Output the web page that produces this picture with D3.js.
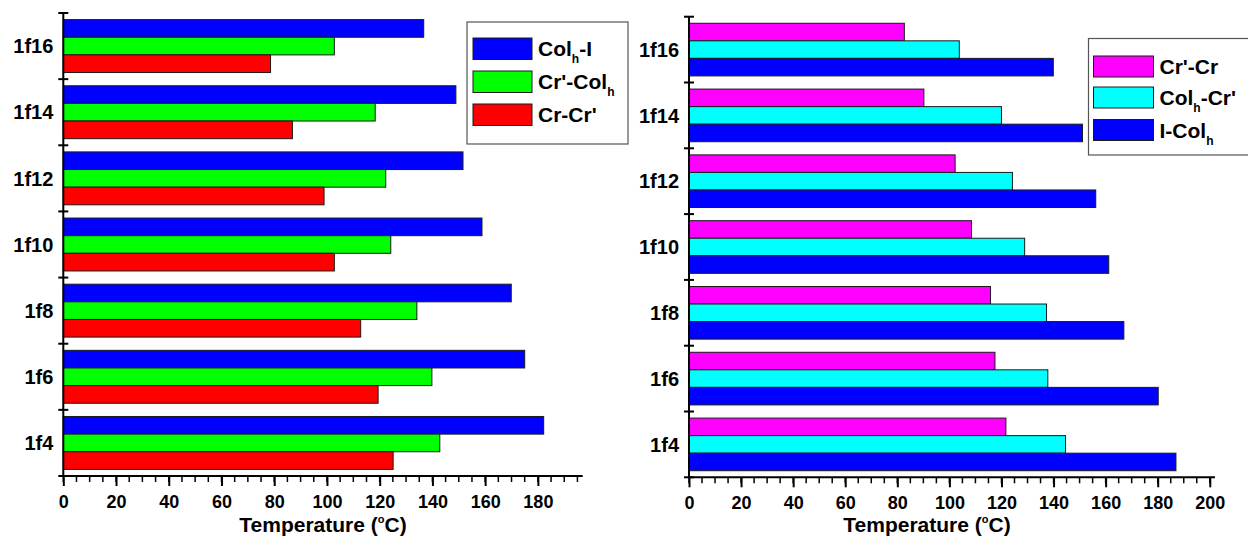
<!DOCTYPE html>
<html>
<head>
<meta charset="utf-8">
<script src="https://cdn.jsdelivr.net/npm/d3@7"></script>
<style>
  html, body { margin: 0; padding: 0; background: #fff; }
  svg { display: block; font-family: "Liberation Sans", Arial, sans-serif; font-weight: bold; }
</style>
</head>
<body>
<svg id="chart" width="1248" height="537"></svg>
<script>
// Compounds, listed top to bottom
const categories = ["1f16", "1f14", "1f12", "1f10", "1f8", "1f6", "1f4"];

// Heating transitions (°C), same order as categories
const colhToI   = [136.7, 148.9, 151.6, 158.8, 169.9, 175.0, 182.2];
const crpToColh = [102.8, 118.3, 122.3, 124.2, 134.1, 139.8, 142.8];
const crToCrp   = [78.6, 86.9, 98.9, 102.8, 112.8, 119.4, 125.1];

// Cooling transitions (°C), same order as categories
const crpToCr   = [82.7, 90.2, 102.2, 108.5, 115.8, 117.5, 121.7];
const colhToCrp = [103.8, 120.0, 124.2, 128.9, 137.3, 137.8, 144.6];
const iToColh   = [139.9, 151.1, 156.2, 161.2, 167.0, 180.2, 187.0];

const heatTicks = [0, 20, 40, 60, 80, 100, 120, 140, 160, 180];
const coolTicks = [0, 20, 40, 60, 80, 100, 120, 140, 160, 180, 200];

const svg = d3.select("#chart");

// label parts: [text, isSubscript]
const panels = [
  {
    x0: 63.3, x1: 582.7, y0: 13, y1: 476, xMax: 197, ticks: heatTicks,
    titleX: 323,
    series: [
      { key: "colhI", values: colhToI, color: "#0000ff", label: [["Col", 0], ["h", 1], ["-I", 0]] },
      { key: "crpColh", values: crpToColh, color: "#00ff00", label: [["Cr'-Col", 0], ["h", 1]] },
      { key: "crCrp", values: crToCrp, color: "#ff0000", label: [["Cr-Cr'", 0]] }
    ],
    legend: { x: 467, y: 22, w: 161, h: 122, swX: 473, swW: 59, rows: [38, 71, 104], swH: 21.5, textX: 538 }
  },
  {
    x0: 689, x1: 1215, y0: 16.7, y1: 477.3, xMax: 202, ticks: coolTicks,
    titleX: 927,
    series: [
      { key: "crpCr", values: crpToCr, color: "#ff00ff", label: [["Cr'-Cr", 0]] },
      { key: "colhCrp", values: colhToCrp, color: "#00ffff", label: [["Col", 0], ["h", 1], ["-Cr'", 0]] },
      { key: "iColh", values: iToColh, color: "#0000ff", label: [["I-Col", 0], ["h", 1]] }
    ],
    legend: { x: 1088.5, y: 38.5, w: 170, h: 116.5, swX: 1093.5, swW: 60, rows: [56, 87, 119.5], swH: 21, textX: 1159.5 }
  }
];

function drawPanel(p) {
  const g = svg.append("g");
  const x = d3.scaleLinear().domain([0, p.xMax]).range([p.x0, p.x1]);
  const y = d3.scaleBand().domain(categories).range([p.y0, p.y1])
    .paddingInner(0.2).paddingOuter(0.1);
  const sub = d3.scaleBand().domain(p.series.map(s => s.key)).range([0, y.bandwidth()]);

  // bars
  p.series.forEach(s => {
    g.append("g").selectAll("rect")
      .data(categories.map((c, i) => ({ c, v: s.values[i] })))
      .join("rect")
      .attr("x", x(0))
      .attr("y", d => y(d.c) + sub(s.key))
      .attr("width", d => x(d.v) - x(0))
      .attr("height", sub.bandwidth())
      .attr("fill", s.color)
      .attr("stroke", "#1a1a1a")
      .attr("stroke-width", 1);
  });

  // x axis: major ticks every 20, minor every 5
  const minor = d3.range(0, p.xMax + 0.01, 5);
  const xAxisG = g.append("g").attr("transform", `translate(0,${p.y1})`);
  xAxisG.append("line")
    .attr("x1", x(0)).attr("x2", x(p.xMax))
    .attr("stroke", "#000").attr("stroke-width", 2);
  xAxisG.selectAll("line.minor").data(minor).join("line")
    .attr("class", "minor")
    .attr("x1", d => x(d)).attr("x2", d => x(d))
    .attr("y1", 0).attr("y2", 6)
    .attr("stroke", "#000").attr("stroke-width", 1.5);
  const xAxis = d3.axisBottom(x).tickValues(p.ticks).tickSize(10).tickPadding(9);
  const ax = xAxisG.append("g").call(xAxis);
  ax.select(".domain").remove();
  ax.selectAll(".tick line").attr("stroke", "#000").attr("stroke-width", 2);
  ax.selectAll(".tick text")
    .attr("fill", "#000")
    .style("font-size", "18px")
    .style("font-weight", "bold")
    .style("font-family", "'Liberation Sans', Arial, sans-serif");

  // axis title
  const title = g.append("text")
    .attr("x", p.titleX).attr("y", 532)
    .attr("text-anchor", "middle")
    .style("font-size", "21px");
  title.append("tspan").text("Temperature (");
  title.append("tspan").text("o").style("font-size", "11px").attr("dy", -9);
  title.append("tspan").text("C)").attr("dy", 9);

  // y axis with ticks at band boundaries
  const half = y.step() * y.paddingInner() / 2;
  const bounds = categories.map(c => y(c) - half).concat([p.y1]);
  g.append("line")
    .attr("x1", x(0)).attr("x2", x(0))
    .attr("y1", p.y0).attr("y2", p.y1)
    .attr("stroke", "#000").attr("stroke-width", 2);
  g.selectAll("line.ytick").data(bounds).join("line")
    .attr("class", "ytick")
    .attr("x1", x(0) - 5).attr("x2", x(0) + 5)
    .attr("y1", d => d).attr("y2", d => d)
    .attr("stroke", "#000").attr("stroke-width", 2);
  g.selectAll("text.ylab").data(categories).join("text")
    .attr("class", "ylab")
    .attr("x", x(0) - 10)
    .attr("y", c => y(c) + y.bandwidth() / 2)
    .attr("dy", "0.36em")
    .attr("text-anchor", "end")
    .style("font-size", "20px")
    .text(c => c);

  // legend
  const L = p.legend;
  const lg = g.append("g");
  lg.append("rect")
    .attr("x", L.x).attr("y", L.y).attr("width", L.w).attr("height", L.h)
    .attr("fill", "#fff").attr("stroke", "#555").attr("stroke-width", 1.2);
  p.series.forEach((s, i) => {
    const ry = L.rows[i];
    lg.append("rect")
      .attr("x", L.swX).attr("y", ry).attr("width", L.swW).attr("height", L.swH)
      .attr("fill", s.color).attr("stroke", "#1a1a1a").attr("stroke-width", 1);
    const t = lg.append("text")
      .attr("x", L.textX).attr("y", ry + L.swH / 2 + 7.5)
      .style("font-size", "21px");
    let shifted = 0;
    s.label.forEach(([txt, isSub]) => {
      const ts = t.append("tspan").text(txt);
      if (isSub) {
        ts.style("font-size", "12px").attr("dy", 7);
        shifted = 7;
      } else if (shifted) {
        ts.attr("dy", -shifted);
        shifted = 0;
      }
    });
  });
}

panels.forEach(drawPanel);
</script>
</body>
</html>
